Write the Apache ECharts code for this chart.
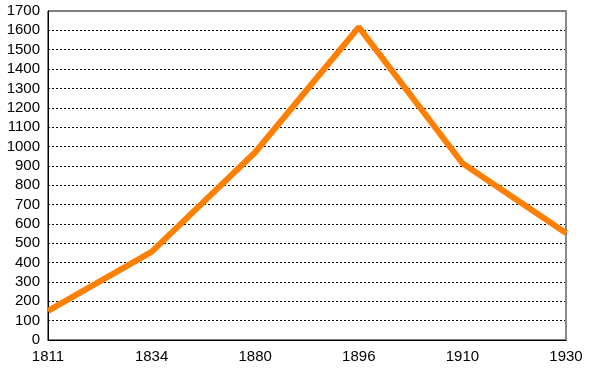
<!DOCTYPE html>
<html>
<head>
<meta charset="utf-8">
<script src="https://cdn.jsdelivr.net/npm/echarts@6/dist/echarts.min.js"></script>
<style>
  html, body { margin: 0; padding: 0; background: #fff; }
  #chart { width: 590px; height: 369px; }
</style>
</head>
<body>
<div id="chart"></div>
<script>
const years = ['1811', '1834', '1880', '1896', '1910', '1930'];
const values = [150, 455, 970, 1617, 913, 553];
const yMin = 0;
const yMax = 1700;
const yStep = 100;

const chart = echarts.init(document.getElementById('chart'));
const labelFont = { color: '#000', fontSize: 15, fontFamily: 'Liberation Sans, Arial, sans-serif' };

chart.setOption({
  animation: false,
  // box round the plot: black, the right edge is painted grey by the second y axis
  grid: { left: 48, right: 24, top: 11, bottom: 29, show: true, borderColor: '#000', borderWidth: 1 },
  xAxis: {
    type: 'category',
    data: years,
    boundaryGap: false,
    axisLine: { lineStyle: { color: '#000', width: 1 } },
    axisTick: { show: false },
    axisLabel: Object.assign({ margin: 9 }, labelFont),
    splitLine: { show: false }
  },
  yAxis: [{
    type: 'value',
    min: yMin,
    max: yMax,
    interval: yStep,
    axisLine: { show: true, onZero: false, lineStyle: { color: '#000', width: 1 } },
    axisTick: { show: false },
    axisLabel: Object.assign({ margin: 8, formatter: v => String(v) }, labelFont),
    splitLine: { show: true, showMaxLine: false, showMinLine: false, lineStyle: { color: '#000', type: [2, 2], width: 1 } }
  }, {
    type: 'value',
    position: 'right',
    min: yMin,
    max: yMax,
    interval: yStep,
    axisLine: { show: true, onZero: false, lineStyle: { color: '#888', width: 2 } },
    axisTick: { show: false },
    axisLabel: { show: false },
    splitLine: { show: false }
  }],
  series: [{
    type: 'line',
    data: values,
    symbol: 'none',
    lineStyle: { color: '#ff7f00', width: 6 },
    z: 5
  }]
});
</script>
</body>
</html>
